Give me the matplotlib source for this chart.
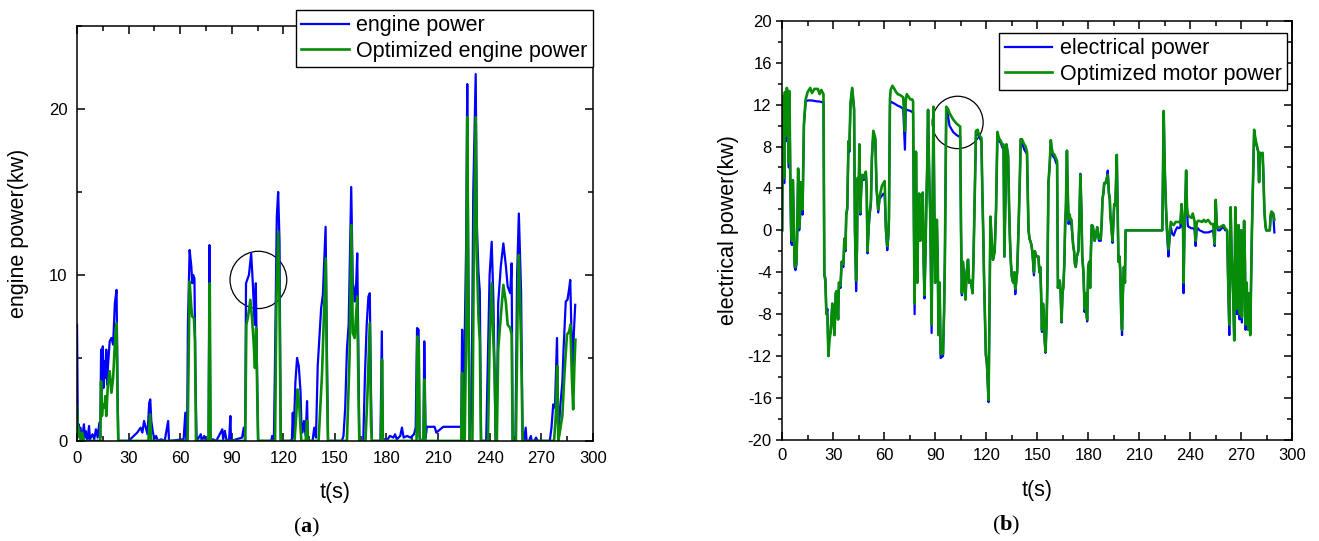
import matplotlib.pyplot as plt
from matplotlib.patches import Ellipse
from matplotlib.ticker import MultipleLocator

plt.rcParams['font.family'] = ['Liberation Sans', 'DejaVu Sans']
plt.rcParams['axes.unicode_minus'] = False
plt.rcParams['mathtext.fontset'] = 'custom'
plt.rcParams['mathtext.bf'] = 'Liberation Serif:bold'

# ---- (a) engine power ----
engine_t = [0, 0.5, 1, 1.5, 2, 3, 4, 4.5, 5, 6, 7, 7.5, 9, 10, 11, 12, 13, 13.5,
            14, 14.5, 15, 15.5, 16, 16.5, 17, 17.5, 18, 19, 20, 21, 22, 23, 23.6, 24,
            30, 31, 33, 35, 37, 38, 39, 40, 41, 42, 42.6, 43.2, 44, 45, 46, 47, 49, 51,
            53, 53.5, 62, 63, 63.6, 64, 64.5, 65.5, 66.5, 67, 67.5, 68.3, 69, 69.6,
            72, 72.5, 74, 75, 76.5, 77, 77.6, 79, 81, 84.5, 85, 86, 87, 88.5, 89.2, 89.6,
            96, 97, 97.8, 98.3, 100, 101.3, 102.3, 103.3, 104.0, 104.6, 105.3,
            113, 113.5, 114.5, 115, 116.2, 117, 117.8, 118.5,
            124, 125, 125.5, 126, 127, 128, 129, 130, 130.5, 131, 132, 133, 133.8, 134.3,
            137, 138, 139, 140, 142, 143, 144.6, 145.3, 146,
            154, 155, 156, 157, 158, 159.5, 160.4, 161, 161.5, 162.2, 163, 163.6, 164.2,
            166.5, 167.5, 168.5, 169.5, 170.3, 171, 171.5, 176.5, 177.3, 177.9,
            179, 180, 182, 184, 185, 186, 188, 189, 190, 192, 194, 196, 197,
            197.8, 198.7, 199.2, 200, 201.5, 202, 202.8, 203.5, 208, 209, 213, 223.5,
            224, 224.6, 225.1, 226.3, 227, 227.5, 228.4, 229.5, 230.5, 231.9, 232.6,
            233.5, 234.3, 235, 238, 239, 240, 241.2, 242.2, 243.5, 244, 245, 246.5,
            248, 249.5, 250.5, 252, 252.8, 253.4, 255, 256, 257, 258.3, 259.2,
            260, 261, 261.5, 263, 264, 264.5, 266, 267, 268, 275, 276, 277, 278,
            279.2, 280, 281, 282.3, 283, 284.3, 285.3, 286.3, 286.9, 287.5, 288.3,
            289, 289.8]
engine_kw = [7.0, 0.3, 1.0, 0.2, 0.8, 0.1, 1.0, 0.2, 0.6, 0, 0.9, 0.1, 0.4, 0.1, 0.7, 0.2, 1.1, 0.2,
             5.5, 3.0, 5.7, 3.2, 4.8, 3.8, 5.5, 3.4, 4.5, 6.0, 6.2, 5.8, 8.3, 9.1, 3, 0,
             0, 0.1, 0.3, 0.5, 0.8, 0.5, 1.2, 0.8, 0.4, 2.3, 2.5, 1.2, 0.6, 0.1, 0.3, 0, 0.1, 0,
             1.2, 0, 0.1, 1.7, 0, 0, 7, 11.5, 10.5, 9.5, 10.0, 9.8, 3, 0,
             0.4, 0, 0.3, 0, 0, 11.8, 0, 0.1, 0, 0.7, 0.1, 0.6, 0, 0.1, 1.5, 0,
             0.2, 0.8, 0, 9.5, 10.0, 11.3, 9.4, 7.0, 9.5, 5, 0,
             0, 0.3, 0, 3.5, 13.5, 15.0, 12, 0,
             0, 0.1, 1.7, 0.2, 3.5, 5.0, 4.5, 3.0, 1.0, 0.5, 1.2, 0.3, 2.4, 0,
             0, 0.8, 0.2, 4.5, 8.0, 8.8, 12.9, 6, 0,
             0, 0.3, 2, 5.5, 7, 15.3, 9.5, 9.2, 8.4, 9.0, 11.3, 6, 0,
             0, 4, 7.0, 8.7, 8.9, 3, 0, 0, 6.6, 0,
             0.1, 0, 0.3, 0.2, 0.4, 0.1, 0.3, 0.8, 0.2, 0.3, 0.2, 0.4, 0.8,
             6.8, 6.7, 0.3, 0, 0, 6.0, 0.2, 0.85, 0.85, 0.5, 0.85, 0.85,
             6.7, 0.3, 3.6, 11.5, 21.5, 12, 0, 2, 15, 22.1, 13.0,
             10.2, 9.0, 0, 0, 5, 10, 12.0, 8.5, 0, 0, 8.3, 10.5,
             11.9, 10.5, 9.3, 8.9, 10.7, 0, 0, 10, 13.7, 9, 0,
             0, 0.8, 0, 0, 0.3, 0, 0, 0.2, 0, 0, 0.8, 2.2, 2.0,
             6.2, 0, 2.0, 3.5, 5.5, 8.4, 8.5, 9.2, 9.7, 7.0, 4.5,
             6.5, 8.2]

opt_engine_t = [0, 0.6, 1, 2, 3, 4, 13.5, 14, 14.5, 15, 16, 16.5, 17, 18, 19, 20, 21, 22, 23, 23.6, 24,
                41.5, 42.5, 43.2, 64.3, 65.5, 66.5, 67, 68, 68.6, 69.2, 76.5, 77.2, 77.7,
                97.8, 98.5, 99.5, 100.8, 101.8, 102.7, 103.5, 104.2, 104.8, 105.4,
                115.2, 116, 117, 117.7, 118.5, 126.5, 127.5, 128.3, 129.2, 130, 130.5,
                133, 133.8, 134.3, 140.5, 142.5, 144.7, 145.3, 146,
                157, 158.5, 159.6, 160.4, 161.5, 162, 163, 163.7, 164.2,
                167.8, 169, 170.3, 171, 171.5, 176.8, 177.4, 177.9,
                197.5, 198, 198.8, 199.3, 201.5, 202, 202.7, 223.5, 224, 224.6,
                225.5, 226.3, 227, 227.6, 228.4, 230, 230.7, 231.9, 232.6, 233.5, 234.3, 235,
                239, 240, 241.2, 242.2, 243, 243.6, 244.2, 245, 246.5, 248, 249.5, 250.5,
                252, 252.8, 253.4, 255.3, 256.3, 257, 258.3, 259.2,
                277.5, 278.5, 279.3, 280, 281.2, 282.3, 283.5, 285, 286.3, 287, 287.8,
                288.6, 289.3, 289.9]
opt_engine_kw = [2.1, 0.3, 0.8, 0.1, 0.5, 0, 0, 3.6, 1.5, 2.2, 2.0, 2.7, 1.5, 3.5, 4.2, 2.9, 3.8, 5.8, 7.1, 2, 0,
                 0, 1.6, 0, 0, 9.6, 8, 7.5, 7.4, 6, 0, 0, 9.5, 0,
                 0, 7.0, 7.5, 8.5, 7.4, 6.0, 4.4, 6.8, 3, 0,
                 0, 8.5, 12.6, 9, 0, 0, 1.5, 3.1, 2.3, 0.8, 0,
                 0, 1.2, 0, 0, 4, 11.0, 4, 0,
                 0, 5, 13.0, 6.5, 6.2, 7, 8.7, 3, 0,
                 0, 3, 7.1, 1, 0, 0, 4.9, 0,
                 0, 6.3, 5.5, 0, 0, 3.7, 0, 0, 4.1, 0,
                 0, 6, 19.5, 10, 0, 0, 10, 19.5, 11, 7.5, 6.0, 0,
                 0, 6, 9.5, 6.0, 4.0, 0, 0, 5.5, 7.5, 9.4, 8.3, 7.0,
                 6.8, 6.4, 0, 0, 8, 11.2, 6, 0,
                 0, 1.5, 4.5, 0, 0.8, 1.5, 4, 6.4, 6.6, 7.0, 4.0,
                 1.9, 4.5, 6.1]

# ---- (b) electrical / motor power ----
elec_t = [0, 0.4, 1.2, 1.6, 2.2, 2.7, 3.4, 3.9, 4.3, 4.8, 5.3, 5.8, 6.3, 6.8, 7.3, 7.8, 8.4, 8.9,
          9.4, 10, 10.5, 11, 12, 12.8, 13.8, 15, 16.5, 17.5, 19, 21, 22, 23, 24.3, 24.8,
          25.4, 26, 26.6, 27.2, 27.8, 28.5, 29.5, 30.3, 30.8, 31.5, 32, 32.9, 33.4, 34.3,
          35, 36, 36.6, 37.2, 37.7, 38.3, 39, 39.5, 40.2, 41.2, 42.3, 42.8, 43.5, 44,
          44.4, 45, 45.4, 46, 46.5, 47.1, 48, 49.2, 49.7, 50.2, 50.8, 51.3, 52.2, 52.8,
          53.6, 54.8, 55.5, 56.5, 57.3, 58.6, 59.5, 60.3, 61, 61.8, 62.4, 62.8, 63.4,
          63.8, 64.8, 66, 67, 68, 69.5, 71.2, 72.2, 72.7, 73.3, 75.4, 76.5, 77, 77.5,
          77.9, 78.4, 78.7, 79.2, 79.5, 80, 80.6, 81.2, 81.6, 82.2, 82.7, 83.2, 83.7,
          84.3, 84.8, 85.3, 85.8, 86.5, 87.1, 87.9, 88.5, 89, 89.5, 90, 90.5, 91, 91.5,
          92, 92.6, 93.2, 94.6, 95.2, 95.7, 96.5, 97.5, 98.4, 100.5, 102.5, 104.7, 105.2,
          105.7, 106.3, 106.8, 107.3, 107.8, 108.5, 109.3, 110, 111, 112, 112.5, 113,
          113.5, 114, 115, 115.6, 117.2, 117.7, 118.3, 118.8, 119.3, 119.8, 120.4,
          121.4, 121.9, 122.5, 123.2, 124, 125, 125.8, 126.6, 127.5, 128.7, 129.5,
          130.2, 130.7, 131.3, 131.9, 132.9, 133.5, 134, 134.5, 135, 135.5, 136, 136.6,
          137.1, 137.6, 138.2, 139, 139.8, 140.3, 141, 142.4, 143.2, 144, 144.5, 144.9,
          145.5, 146.5, 147.1, 147.6, 148.1, 148.6, 149.6, 150.7, 151.3, 151.8, 152.3,
          152.8, 153.4, 153.9, 154.4, 154.9, 155.5, 156, 156.6, 157.3, 158, 158.6,
          159.1, 160.2, 161.2, 161.7, 162.2, 162.7, 163.3, 163.8, 164.3, 164.9, 165.4,
          166, 166.4, 166.9, 167.5, 168, 168.5, 169.1, 169.6, 170.2, 170.7, 171.2,
          171.7, 172.2, 172.7, 173.3, 174.2, 174.8, 175.4, 176, 176.5, 177.2, 177.9,
          178.5, 179, 179.4, 180, 180.6, 181.1, 181.6, 182.1, 182.8, 183.8, 184.5,
          185.3, 186.3, 187.4, 188, 188.4, 189, 189.4, 190.2, 191, 191.5, 192.2, 192.7,
          193, 193.6, 194.3, 195.3, 196, 196.8, 197.3, 197.8, 198.4, 198.9, 199.4,
          199.9, 200.4, 201, 201.6, 202, 223.6, 224.4, 225, 225.7, 226.4, 227.2, 227.8,
          228.6, 229.4, 230.3, 231.4, 232.4, 233.4, 234.2, 234.9, 235.4, 235.8, 236.1,
          236.6, 237.2, 237.6, 238.1, 238.6, 239.5, 240.7, 241.5, 242.5, 243.2, 243.8,
          244.5, 245.5, 247, 248, 249.1, 250.5, 252.3, 253.5, 254.4, 255, 255.6, 256.4,
          257.5, 258.5, 259.6, 260.6, 261.7, 262.3, 263, 263.4, 263.8, 264.3, 264.8,
          265.4, 265.9, 266.5, 267, 267.5, 268, 268.4, 269, 269.6, 270, 270.4, 271,
          271.7, 272.2, 272.6, 273.2, 273.7, 274.2, 274.7, 275.3, 275.9, 276.3, 276.7,
          277.6, 278.4, 279.5, 280, 280.5, 281.1, 282, 282.6, 283.1, 283.6, 284.2,
          284.7, 286.8, 287.3, 287.8, 288.9, 289.5]
elec_kw = [0, 12.5, 4.5, 12.8, 8.5, 13.4, 12.9, 6, 13, 4.5, -1.2, -1.4, 4.6, 1, -3.5, -3.8, -3.3, 0,
           5.7, 0, 1, 4.4, 1.5, 10, 12.3, 12.4, 12.4, 12.4, 12.35, 12.3, 12.3, 12.25, 12.2, -4.3,
           -4.5, -8, -7.5, -12, -10, -9.7, -7, -9, -10, -6, -5.8, -8.5, -5, -5.5,
           -3, -3.5, -0.8, -2, 1.5, 2, 8.5, 7.5, 12, 13.5, 11.5, 0, -5.8, -2,
           5, 3, 8.2, 1.5, 4, 5.2, 4.8, 5.5, 4, -2.2, 0, 1.2, 2.5, 7,
           9.2, 8.6, 4, 1.7, 3, 3.3, 3.5, 3.3, 0, -1.9, -0.8, 1, 12,
           12.3, 12.2, 12.1, 12, 11.9, 11.8, 11.6, 7.7, 11.6, 11.5, 11.4, 11.3, 11.2, 0,
           -8, 2, 7.5, 0, -5, 2, 3.5, -1, 0.3, 2, 3.6, -3, -6.5,
           -2, 2.5, 6, 11.5, 5, 1.5, -9.8, 3, 11.7, 2, -5, -1, 1, -3,
           -10, -5, -12.2, -12, -8, -2.8, 11.5, 11, 10, 9.4, 9.1, 8.9, 0,
           -6.2, -3, -4, -5.5, -6.6, -4, -2.8, -5, -5, -6, -3, 1,
           5, 9.4, 9.2, 9, 8.5, 4, -0.5, -5, -8.7, -12, -12.8,
           -16.4, -8, 1.3, -1, -2.8, -2, 2, 9.2, 8.6, 8.3, 7.9,
           8, -2.5, 3, 8.2, 7, 2, -1, -3, -4.3, -4.8, -5, -4,
           -6.1, -5, -4, 0, 5, 8.7, 8.4, 7.7, 7.5, 7.3, 3, 0,
           -0.8, -1.3, -2, -3, -4.3, -2, -2.5, -2.5, -4, -3.5, -6,
           -9.7, -7, -8, -10.5, -11.7, -9, -5, 4.5, 6, 8.6, 7.5,
           7.1, 6.9, 6.4, 6.3, -5.5, -5, -4.8, -6, -8.8, -6, -5.4,
           -3, 0, 2, 7.6, 3, 0.6, 1.5, 0.7, 0.5, -0.5, -1.5,
           -2, -3.2, -3.5, -2.5, -2, 1, 5.4, 2, -2.5, -4, -7.8,
           -6, -8, -8.7, -3.5, -3, -5.5, -2, 0.5, 0.2, -1, -0.5,
           0.3, -1, -1, 1, 3, 3.6, 4.5, 4.5, 5, 5.7, 3.5, 3,
           1.5, 0.4, -1.2, 2.5, 2.4, 7.2, 2, -3, -2.5, -4, -8,
           -10, -6, -3.5, -5, 0, 0, 11.3, 6, 2.2, -0.5, -2.5, -1,
           0.3, -0.3, -0.5, 0, 0.3, 0.2, 0.3, 2.5, 0.5, 0, -6,
           0, 3, 5.7, 2, 0.4, 0.3, 0.2, 0.2, 0.1, -1.5, 0,
           0.2, 0, -0.1, -0.2, -0.2, -0.2, -0.1, 0, -1.5, 2.9, 0.5, 0,
           0, 0.2, 0.3, 0, 0, -5, -10, -3, 2.2, -2, -4,
           -7, -10.5, 2.2, -3, -8, -4, 0.5, -8.5, -3, 0, -8.8, -5,
           0.9, -3, -9.5, -5, -8.5, -9.5, -6, -10, -4, 0, 3,
           9.5, 8.5, 7.8, 7.5, 4.6, 7.4, 7.3, 7.3, 5, 2, 0.5,
           0, 0, 1.3, 1.6, 1.4, -0.2]
motor_kw = [0, 12.8, 5, 13.2, 9, 13.6, 13.2, 6.5, 13.3, 4.6, 0, -1, 4.8, 1.5, -3.3, -3.5, -3, 0.3,
            5.9, 0.3, 1.5, 4.6, 2, 10.2, 12.5, 13.2, 13.6, 13.1, 13.5, 13.5, 13.0, 13.4, 13.0, -4.3,
            -4.8, -8, -8, -12, -10.5, -9.7, -7, -9, -10, -6, -5.8, -8.5, -5, -5.3,
            -3, -3.2, -0.8, -1.8, 1.5, 2.2, 8.5, 7.8, 12.2, 13.6, 11.6, 0, -4.8, -1.5,
            5, 3.2, 8.2, 1.7, 4, 5.3, 5, 5.6, 4, -2, 0.2, 1.5, 2.8, 7,
            9.5, 8.8, 4, 2, 3.2, 4.2, 4.5, 4.7, 0.3, -1.5, -0.5, 1, 12.5,
            13.4, 13.8, 13.5, 13.2, 13, 12.9, 12.7, 9.5, 12.4, 13, 12.5, 12.5, 12.3, 0,
            -7, 2, 7.5, 0, -5, 2, 3.5, -1, 0.3, 2, 3.6, -3, -6.2,
            -2, 2.5, 6, 11.5, 5, 1.5, -9, 3, 11.8, 2, -5, -1, 1, -3,
            -10, -5, -11.8, -11.8, -8, -2.8, 11.8, 11.6, 11.2, 10.6, 10.2, 9.9, 0,
            -6, -3, -4, -5.5, -6.6, -4, -2.8, -5, -4.8, -6, -3, 1,
            5, 9.5, 9.6, 9.2, 8.8, 4, -0.5, -5, -8.5, -11.8, -12.5,
            -16.2, -8, 1.3, -1, -2.8, -2, 2, 9.4, 8.8, 8.5, 8.1,
            8.2, -2.5, 3, 8.2, 7.2, 2, -1, -3, -4.3, -4.8, -5, -4,
            -5.6, -5, -4, 0, 5, 8.7, 8.7, 8.2, 8, 7.5, 3, 0,
            -0.8, -1.3, -2, -3, -4, -2, -2.5, -2.5, -4, -3.5, -6,
            -9.5, -7, -8, -10.5, -11.6, -9, -5, 4.5, 6.2, 8.6, 7.8,
            7.4, 7.2, 6.8, 6.6, -5.5, -5, -4.8, -6, -8.7, -6, -5.4,
            -3, 0.5, 2.5, 7.6, 3.5, 1, 1.5, 1, 1, -0.5, -1.5,
            -2, -3.2, -3.5, -2.5, -2, 1, 5.3, 2, -2.5, -4, -7.5,
            -6, -8, -8.5, -3.5, -3, -5.5, -2, 0.5, 0.4, -1, -0.5,
            0.3, -0.8, -0.8, 1, 3, 3.6, 4.5, 4.5, 5, 5.3, 3.5, 3,
            1.5, 0.4, -1, 2.5, 2.4, 7.2, 2, -3, -2.5, -4, -8,
            -9.5, -6, -3.5, -5, 0, 0, 11.4, 6, 2.5, 0, -1.8, -0.5,
            0.8, 0.6, 0.5, 0.8, 0.8, 0.8, 0.7, 2.5, 1, 0.3, -5,
            0, 3, 5.7, 2.2, 1.5, 1.3, 1.2, 1.6, 0.9, -1, 0.7,
            0.9, 0.9, 0.8, 1.0, 0.8, 1.0, 0.6, 0.6, -1.3, 2.9, 0.5, 0.2,
            0.3, 0.4, 0.5, 0.2, 0, -4.5, -9, -3, 2.2, -2, -4,
            -7, -10.5, 2.2, -3, -7.5, -4, 0.5, -8, -3, 0, -8.3, -5,
            0.9, -3, -9, -5, -8, -9.5, -6, -10, -4, 0, 3,
            9.6, 8.7, 7.9, 7.5, 4.6, 7.4, 7.3, 7.4, 5, 2, 0.5,
            0, 0, 1.5, 1.8, 1.6, 1.0]

BLUE = '#0000ff'
GREEN = '#078c07'

fig = plt.figure(figsize=(13.19, 5.41), dpi=100)
ax1 = fig.add_axes([0.0584, 0.185, 0.391, 0.767])
ax2 = fig.add_axes([0.593, 0.187, 0.3867, 0.7745])

legend_kw = dict(loc='upper right', bbox_transform=fig.transFigure, fontsize=15.5,
                 frameon=True, fancybox=False, edgecolor='black', framealpha=1,
                 borderpad=0.25, labelspacing=0.2, handlelength=2.2,
                 handletextpad=0.35, borderaxespad=0)

# left chart
ax1.plot(engine_t, engine_kw, color=BLUE, lw=1.6, label='engine power')
ax1.plot(opt_engine_t, opt_engine_kw, color=GREEN, lw=1.9, label='Optimized engine power')
ax1.add_patch(Ellipse((105.5, 9.7), 33, 3.45, fill=False, ec='black', lw=0.9))
ax1.set_xlim(0, 300)
ax1.set_ylim(0, 25)
ax1.xaxis.set_major_locator(MultipleLocator(30))
ax1.xaxis.set_minor_locator(MultipleLocator(15))
ax1.yaxis.set_major_locator(MultipleLocator(10))
ax1.yaxis.set_minor_locator(MultipleLocator(5))
ax1.tick_params(which='both', direction='in', top=True, right=True, labelsize=12, pad=7)
ax1.tick_params(which='major', length=6, width=1.1)
ax1.tick_params(which='minor', length=3.5, width=1.1)
ax1.set_xlabel('t(s)', fontsize=15.5, labelpad=12)
ax1.set_ylabel('engine power(kw)', fontsize=15.5, labelpad=14)
ax1.legend(bbox_to_anchor=(593 / 1319, 1 - 10 / 541), **legend_kw)

# right chart: left ticks point out, the other sides point in
ax2.plot(elec_t, elec_kw, color=BLUE, lw=1.6, label='electrical power')
ax2.plot(elec_t, motor_kw, color=GREEN, lw=1.9, label='Optimized motor power')
ax2.add_patch(Ellipse((103.2, 10.3), 30, 5.0, fill=False, ec='black', lw=0.9))
ax2.set_xlim(0, 300)
ax2.set_ylim(-20, 20)
ax2.xaxis.set_major_locator(MultipleLocator(30))
ax2.xaxis.set_minor_locator(MultipleLocator(15))
ax2.yaxis.set_major_locator(MultipleLocator(4))
ax2.yaxis.set_minor_locator(MultipleLocator(2))
ax2.tick_params(axis='x', which='both', direction='in', top=True, labelsize=12, pad=6, width=1.1)
ax2.tick_params(axis='x', which='major', length=6)
ax2.tick_params(axis='x', which='minor', length=3.5)
ax2.tick_params(axis='y', which='both', direction='out', right=False, labelsize=12, pad=3, width=1.1)
ax2.tick_params(axis='y', which='major', length=4.5)
ax2.tick_params(axis='y', which='minor', length=3)
ax2r = ax2.secondary_yaxis('right')
ax2r.yaxis.set_major_locator(MultipleLocator(4))
ax2r.yaxis.set_minor_locator(MultipleLocator(2))
ax2r.tick_params(which='both', direction='in', labelright=False, width=1.1)
ax2r.tick_params(which='major', length=6)
ax2r.tick_params(which='minor', length=3.5)
ax2r.spines['right'].set_linewidth(1.1)
ax2.set_xlabel('t(s)', fontsize=15.5, labelpad=12)
ax2.set_ylabel('electrical power(kw)', fontsize=15.5, labelpad=6)
ax2.legend(bbox_to_anchor=(1287 / 1319, 1 - 33 / 541), **legend_kw)

for ax in (ax1, ax2):
    for s in ax.spines.values():
        s.set_linewidth(1.1)

fig.text(307 / 1319, 1 - 527 / 541, r'($\mathbf{a}$)', ha='center', va='center',
         fontsize=16, family='Liberation Serif')
fig.text(1006 / 1319, 1 - 525 / 541, r'($\mathbf{b}$)', ha='center', va='center',
         fontsize=16, family='Liberation Serif')

fig.savefig('out.png', dpi=100)
